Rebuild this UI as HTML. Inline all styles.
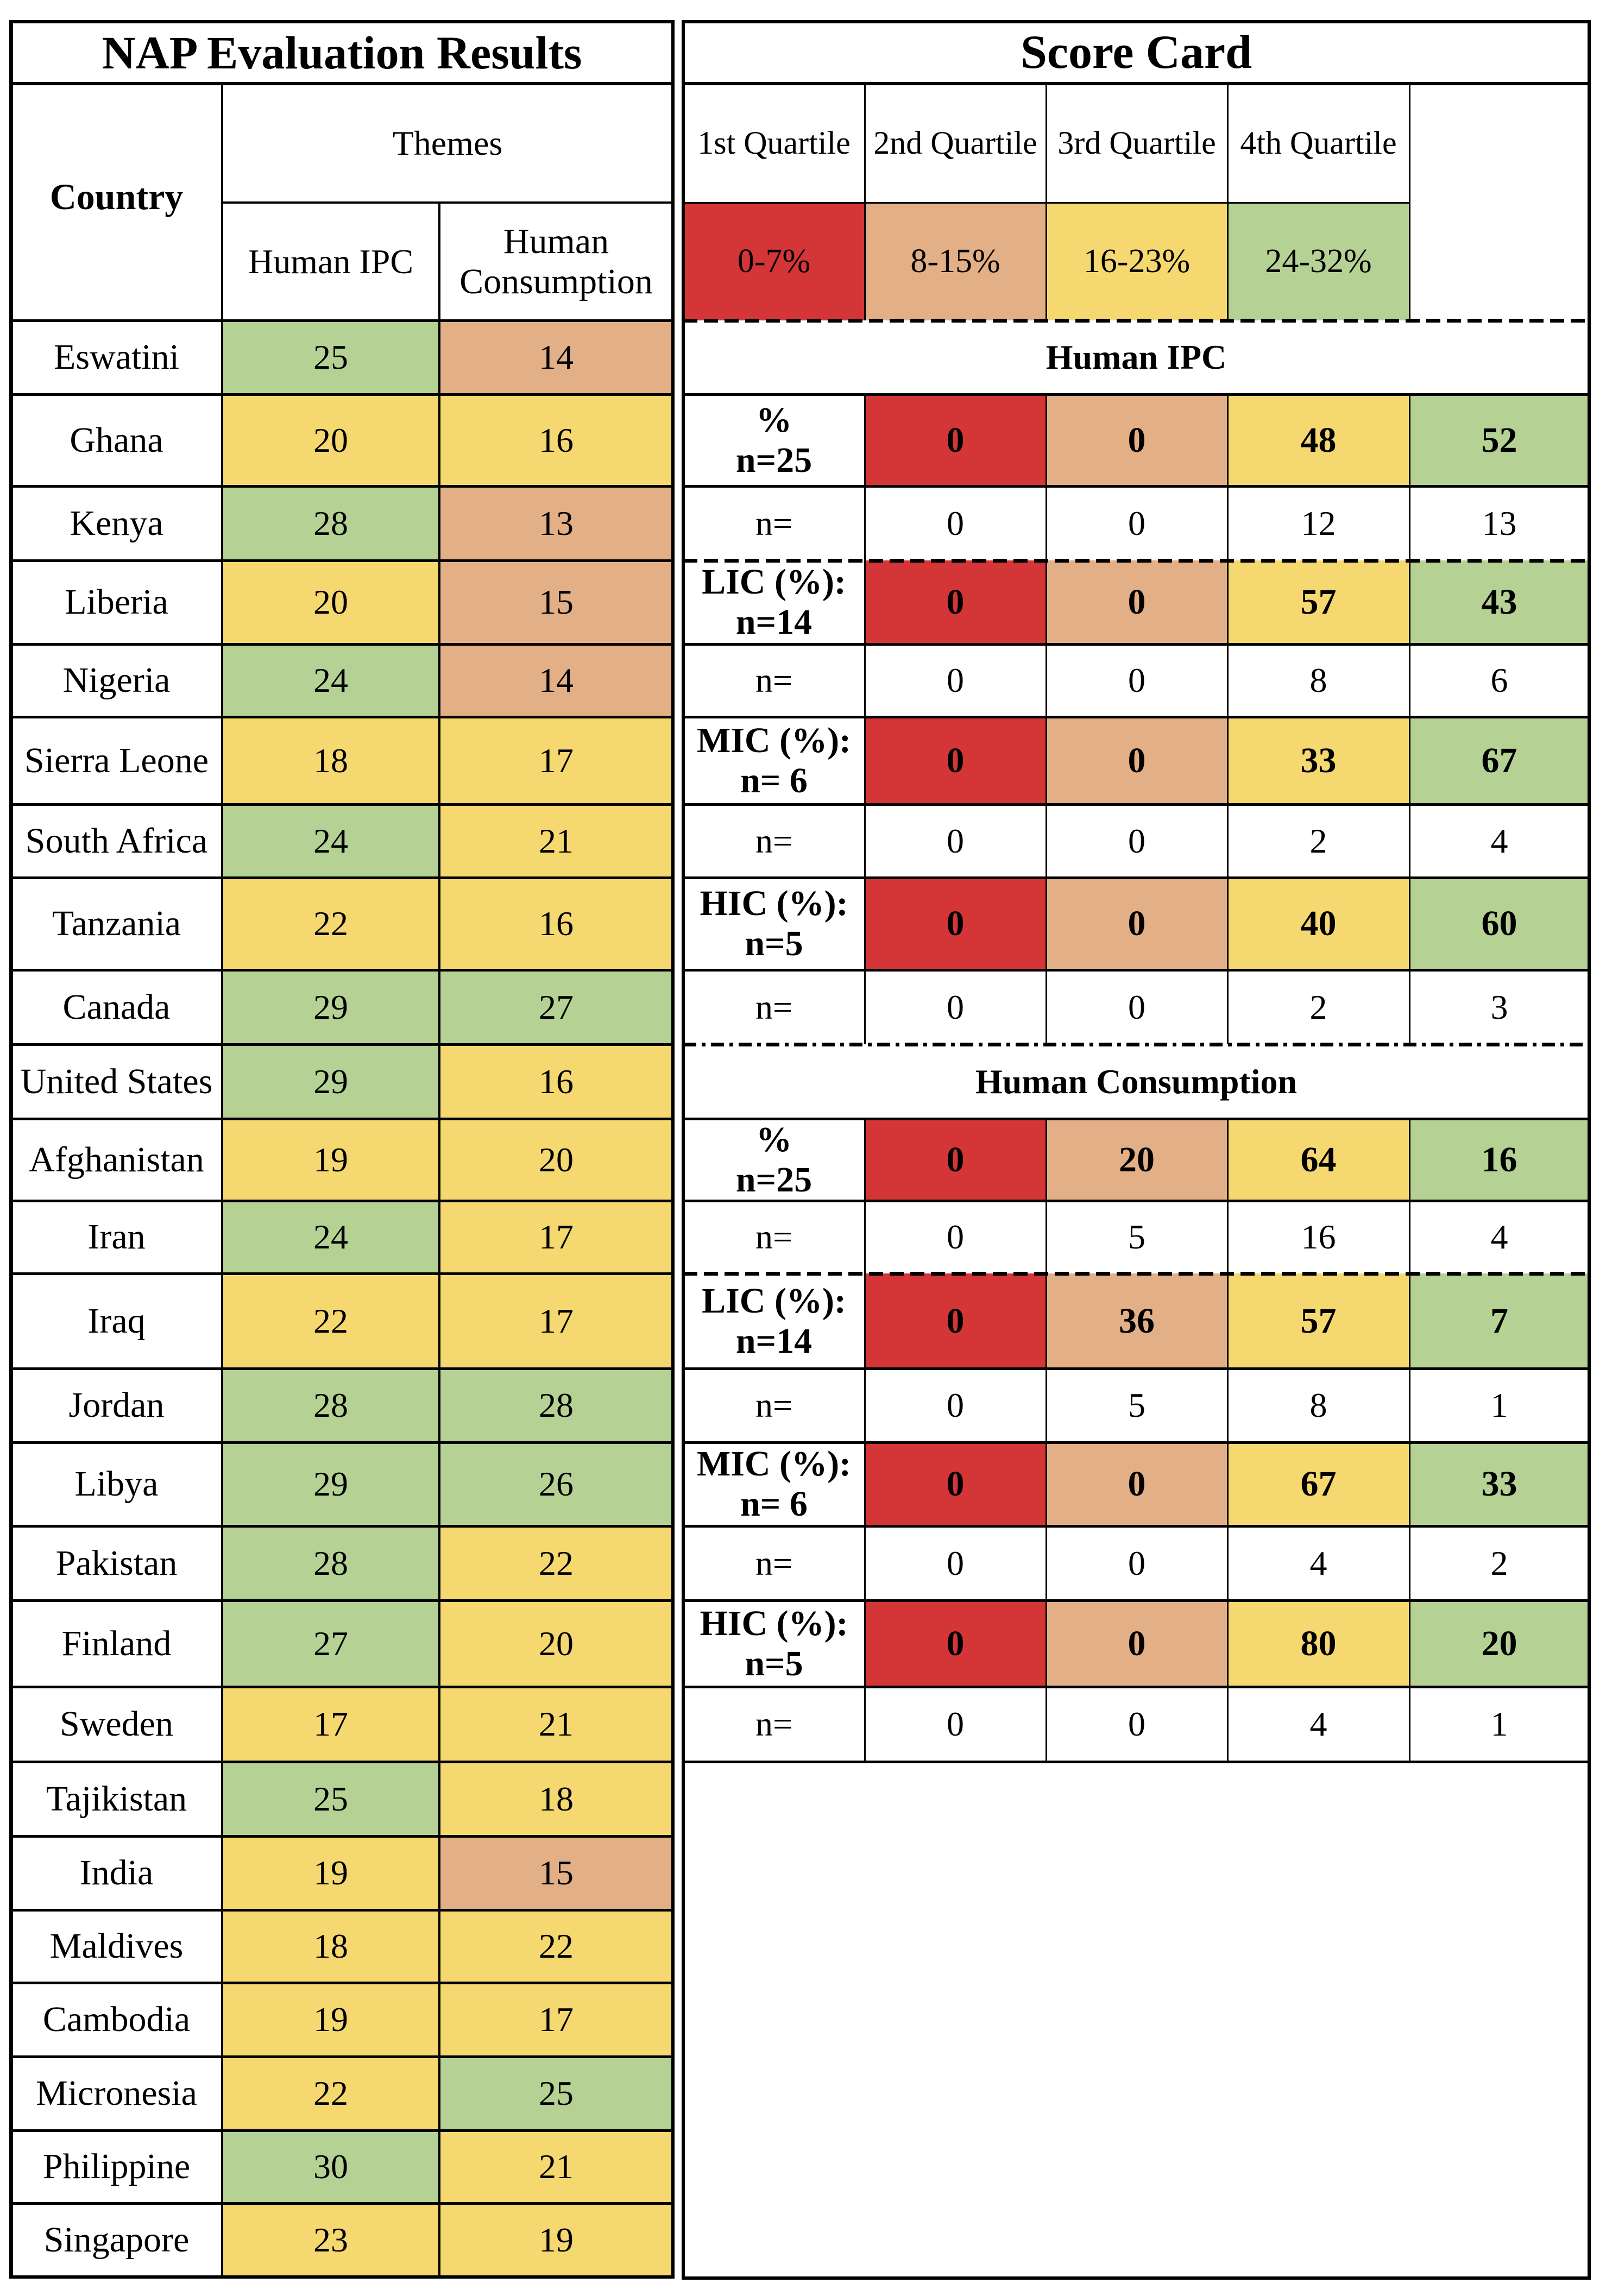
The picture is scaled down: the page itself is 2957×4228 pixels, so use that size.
<!DOCTYPE html>
<html><head><meta charset="utf-8">
<style>
html,body{margin:0;padding:0;background:#fff;}
#root{position:relative;width:2957px;height:4228px;overflow:hidden;font-family:"Liberation Serif","DejaVu Serif",serif;color:#000;}
.c{position:absolute;display:flex;align-items:center;justify-content:center;text-align:center;box-sizing:border-box;line-height:1.12;}
.l{position:absolute;background:#000;}
</style></head>
<body>
<div id="root"></div>
<script>
const countries=["Eswatini","Ghana","Kenya","Liberia","Nigeria","Sierra Leone","South Africa","Tanzania","Canada","United States","Afghanistan","Iran","Iraq","Jordan","Libya","Pakistan","Finland","Sweden","Tajikistan","India","Maldives","Cambodia","Micronesia","Philippine","Singapore"];
const ipcScores=[25,20,28,20,24,18,24,22,29,29,19,24,22,28,29,28,27,17,25,19,18,19,22,30,23];
const consScores=[14,16,13,15,14,17,21,16,27,16,20,17,17,28,26,22,20,21,18,15,22,17,25,21,19];
const quartileLabels=["1st Quartile","2nd Quartile","3rd Quartile","4th Quartile"];
const quartileRanges=["0-7%","8-15%","16-23%","24-32%"];
const groupLabels=[["%","n=25"],["LIC (%):","n=14"],["MIC (%):","n= 6"],["HIC (%):","n=5"]];
const ipcPct=[[0,0,48,52],[0,0,57,43],[0,0,33,67],[0,0,40,60]];
const ipcN=[[0,0,12,13],[0,0,8,6],[0,0,2,4],[0,0,2,3]];
const consPct=[[0,20,64,16],[0,36,57,7],[0,0,67,33],[0,0,80,20]];
const consN=[[0,5,16,4],[0,5,8,1],[0,0,4,2],[0,0,4,1]];

const COLORS=["#d43537","#e3af86","#f5d970","#b6d194"];
function qColor(v){return v<=7?COLORS[0]:v<=15?COLORS[1]:v<=23?COLORS[2]:COLORS[3];}
const root=document.getElementById('root');
const rowY=[590,726,895,1032,1186,1320,1481,1616,1786,1923,2060,2211,2345,2520,2656,2810,2947,3106,3244,3381,3517,3651,3787,3923,4057,4193];
const LX=[20,409,809,1239];
const RX=[1258,1592,1926,2260,2595,2926];
const TOP=40,TITLE_B=154,QB=373,HB=590,RBOT=4195;

function cell(x1,y1,x2,y2,html,opt){
  const d=document.createElement('div');d.className='c';
  d.style.left=x1+'px';d.style.top=y1+'px';d.style.width=(x2-x1)+'px';d.style.height=(y2-y1)+'px';
  if(opt.bg)d.style.background=opt.bg;
  d.style.fontSize=(opt.fs||64)+'px';
  if(opt.bold)d.style.fontWeight='bold';
  d.innerHTML=html;
  
  
  root.appendChild(d);return d;
}
function hline(x1,x2,y,w){
  const d=document.createElement('div');d.className='l';
  d.style.top=(y-w/2)+'px';d.style.height=w+'px';
  d.style.left=x1+'px';d.style.width=(x2-x1)+'px';
  
  
  root.appendChild(d);
}
function patline(x1,x2,y,w,dash,name){
  const s=document.createElementNS('http://www.w3.org/2000/svg','svg');
  s.setAttribute('width',x2-x1);s.setAttribute('height',w+2);
  s.style.position='absolute';s.style.left=x1+'px';s.style.top=(y-w/2-1)+'px';
  s.innerHTML='<line x1="0" y1="'+(w/2+1)+'" x2="'+(x2-x1)+'" y2="'+(w/2+1)+'" stroke="#000" stroke-width="'+w+'" stroke-dasharray="'+dash+'"/>';
  
  
  root.appendChild(s);
}
function vline(x,y1,y2,w){
  const d=document.createElement('div');d.className='l';
  d.style.left=(x-w/2)+'px';d.style.top=y1+'px';d.style.width=w+'px';d.style.height=(y2-y1)+'px';
  
  
  root.appendChild(d);
}

/* ---- Left table ---- */
cell(LX[0],TOP,LX[3],TITLE_B,'NAP Evaluation Results',{fs:86,bold:true,name:'left-table-title'});
cell(LX[0],TITLE_B,LX[1],HB-20,'Country',{fs:68,bold:true,name:'country-header'});
cell(LX[1],TITLE_B,LX[3],QB,'Themes',{fs:64,name:'themes-header'});
cell(LX[1],QB,LX[2],HB,'Human IPC',{fs:64,name:'human-ipc-header'});
cell(LX[2],QB,LX[3],HB,'Human<br>Consumption',{fs:66,name:'human-consumption-header'});
countries.forEach((c,i)=>{
  const y1=rowY[i],y2=rowY[i+1];
  cell(LX[0],y1,LX[1],y2,c,{fs:66,name:'country-name'});
  cell(LX[1],y1,LX[2],y2,String(ipcScores[i]),{fs:64,bg:qColor(ipcScores[i]),name:'ipc-score-cell'});
  cell(LX[2],y1,LX[3],y2,String(consScores[i]),{fs:64,bg:qColor(consScores[i]),name:'consumption-score-cell'});
});
hline(LX[0]-3,LX[3]+3,TOP,6);hline(LX[0],LX[3],TITLE_B,6);hline(LX[1],LX[3],QB,4);
rowY.forEach((y,i)=>hline(LX[0],LX[3],y,i==rowY.length-1?6:5));
vline(LX[0],TOP,4196,7);vline(LX[1],TITLE_B,4193,4);vline(LX[2],QB,4193,4);vline(1239,TOP,4196,6);

/* ---- Score card ---- */
cell(RX[0],TOP,RX[5],TITLE_B,'Score Card',{fs:88,bold:true,name:'score-card-title'});
quartileLabels.forEach((q,i)=>{
  cell(RX[i],TITLE_B,RX[i+1],QB,q,{fs:60,name:'quartile-label'});
  cell(RX[i],QB,RX[i+1],HB,quartileRanges[i],{fs:62,bg:COLORS[i],name:'quartile-range'});
});
function section(startRow,title,pct,nn){
  const y0=rowY[startRow],y1=rowY[startRow+1];
  cell(RX[0],y0,RX[5],y1,title,{fs:64,bold:true,name:'section-title'});
  for(let g=0;g<4;g++){
    const a=rowY[startRow+1+g*2],b=rowY[startRow+2+g*2],c2=rowY[startRow+3+g*2];
    cell(RX[0],a,RX[1],b,groupLabels[g][0]+'<br>'+groupLabels[g][1],{fs:66,bold:true,name:'group-label'});
    cell(RX[0],b,RX[1],c2,'n=',{fs:64,name:'count-label'});
    for(let q=0;q<4;q++){
      cell(RX[q+1],a,RX[q+2],b,String(pct[g][q]),{fs:66,bold:true,bg:COLORS[q],name:'percent-cell'});
      cell(RX[q+1],b,RX[q+2],c2,String(nn[g][q]),{fs:64,name:'count-cell'});
    }
  }
}
section(0,'Human IPC',ipcPct,ipcN);
section(9,'Human Consumption',consPct,consN);

hline(RX[0]-3,RX[5]+3,TOP,6);hline(RX[0],RX[5],TITLE_B,6);hline(RX[0],RX[4],QB,3);
const solid=[726,895,1186,1320,1481,1616,1786,2060,2211,2520,2656,2810,2947,3106,3244];
solid.forEach(y=>hline(RX[0],RX[5],y,5));
for(let i=1;i<5;i++){vline(RX[i],TITLE_B,HB,3);vline(RX[i],726,1923,3);vline(RX[i],2060,3244,3);}
patline(RX[0],RX[5],HB,7,'26 12','dashed-separator');
patline(RX[0],RX[5],1032,7,'26 12','dashed-separator');
patline(RX[0],RX[5],2345,7,'26 12','dashed-separator');
patline(RX[0],RX[5],1923,7,'24 10 7 10','dash-dot-separator');
hline(RX[0]-3,RX[5]+3,RBOT,6);
vline(RX[0],TOP,RBOT+3,6);vline(RX[5],TOP,RBOT+3,6);
</script>
</body></html>
